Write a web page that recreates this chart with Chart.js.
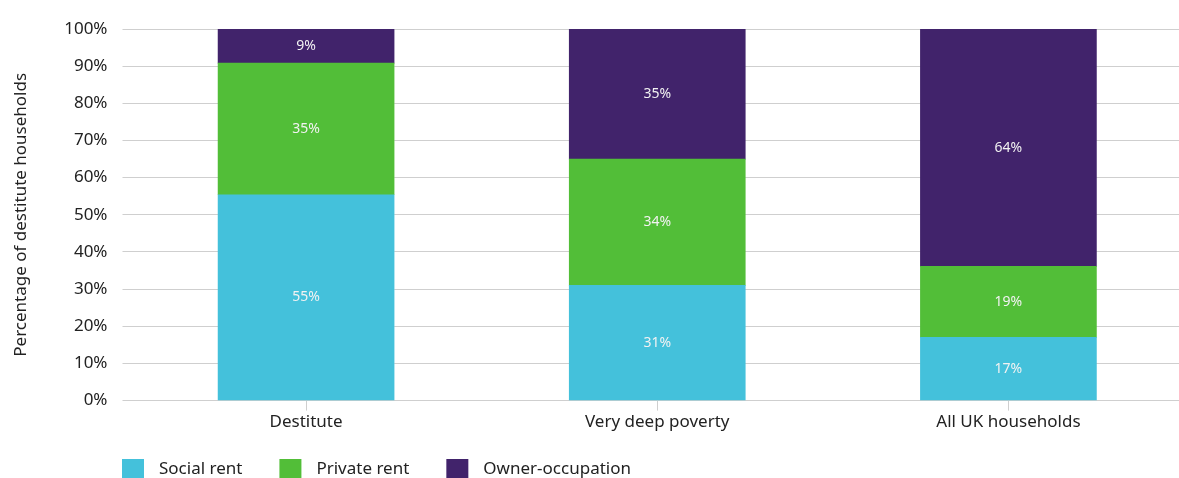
<!DOCTYPE html>
<html>
<head>
<meta charset="utf-8">
<script src="https://cdn.jsdelivr.net/npm/chart.js@4.4.1/dist/chart.umd.min.js"></script>
<style>
  html, body { margin: 0; padding: 0; background: #fff; overflow: hidden; }
  #wrap { width: 1184px; height: 478px; }
</style>
</head>
<body>
<div id="wrap"><canvas id="chart"></canvas></div>
<script>
// Data
const categories = ['Destitute', 'Very deep poverty', 'All UK households'];
const socialRent = [55.4, 31.0, 17.0];
const privateRent = [35.4, 34.0, 19.1];
const ownerOccupation = [9.2, 35.0, 63.9];
const seriesNames = ['Social rent', 'Private rent', 'Owner-occupation'];
const seriesColors = ['#44c1db', '#52be38', '#41236b'];

const FONT = '"Noto Sans", sans-serif';
const TEXT = '#222222';
const GRID = '#cfcfcf';

// white value labels in the middle of each segment
const segmentLabels = {
    id: 'segmentLabels',
    afterDatasetsDraw(chart) {
        const ctx = chart.ctx;
        ctx.save();
        ctx.font = '14px ' + FONT;
        ctx.fillStyle = '#f2f2f2';
        ctx.textAlign = 'center';
        ctx.textBaseline = 'middle';
        chart.data.datasets.forEach((ds, i) => {
            chart.getDatasetMeta(i).data.forEach((bar, j) => {
                const mid = (bar.y + bar.base) / 2;
                ctx.fillText(Math.round(ds.data[j]) + '%', bar.x, mid);
            });
        });
        ctx.restore();
    }
};

// legend drawn under the plot, lined up with the gridlines
const bottomLegend = {
    id: 'bottomLegend',
    afterDraw(chart) {
        const ctx = chart.ctx;
        ctx.save();
        ctx.font = '17px ' + FONT;
        ctx.textBaseline = 'middle';
        ctx.textAlign = 'left';
        let x = 122;
        chart.data.datasets.forEach(ds => {
            ctx.fillStyle = ds.backgroundColor;
            ctx.fillRect(x, 459, 22, 22);
            ctx.fillStyle = TEXT;
            ctx.fillText(ds.label, x + 37, 469);
            x += 37 + ctx.measureText(ds.label).width + 37;
        });
        ctx.restore();
    }
};

const seriesValues = [socialRent, privateRent, ownerOccupation];

new Chart(document.getElementById('chart'), {
    type: 'bar',
    data: {
        labels: categories,
        datasets: seriesNames.map((name, i) => ({
            label: name,
            data: seriesValues[i],
            backgroundColor: seriesColors[i],
            borderWidth: 0,
            barThickness: 176
        }))
    },
    options: {
        responsive: true,
        maintainAspectRatio: false,
        animation: false,
        layout: {
            padding: { top: 29, right: 0, bottom: 45, left: 0 }
        },
        plugins: {
            legend: { display: false },
            tooltip: { enabled: false }
        },
        scales: {
            x: {
                stacked: true,
                grid: {
                    offset: false,
                    drawOnChartArea: false,
                    drawTicks: true,
                    tickLength: 10,
                    color: GRID
                },
                border: { display: true, color: GRID },
                ticks: {
                    color: TEXT,
                    padding: 1,
                    maxRotation: 0,
                    font: { family: FONT, size: 17 }
                }
            },
            y: {
                stacked: true,
                min: 0,
                max: 100,
                afterFit: (scale) => { scale.width = 130.5; },
                grid: {
                    color: GRID,
                    drawTicks: true,
                    tickLength: 8
                },
                border: { display: false },
                ticks: {
                    stepSize: 10,
                    color: TEXT,
                    padding: 15,
                    font: { family: FONT, size: 17 },
                    callback: (v) => v + '%'
                },
                title: {
                    display: true,
                    text: 'Percentage of destitute households',
                    color: TEXT,
                    padding: { top: 11, bottom: 0 },
                    font: { family: FONT, size: 17 }
                }
            }
        }
    },
    plugins: [segmentLabels, bottomLegend]
});
</script>
</body>
</html>
